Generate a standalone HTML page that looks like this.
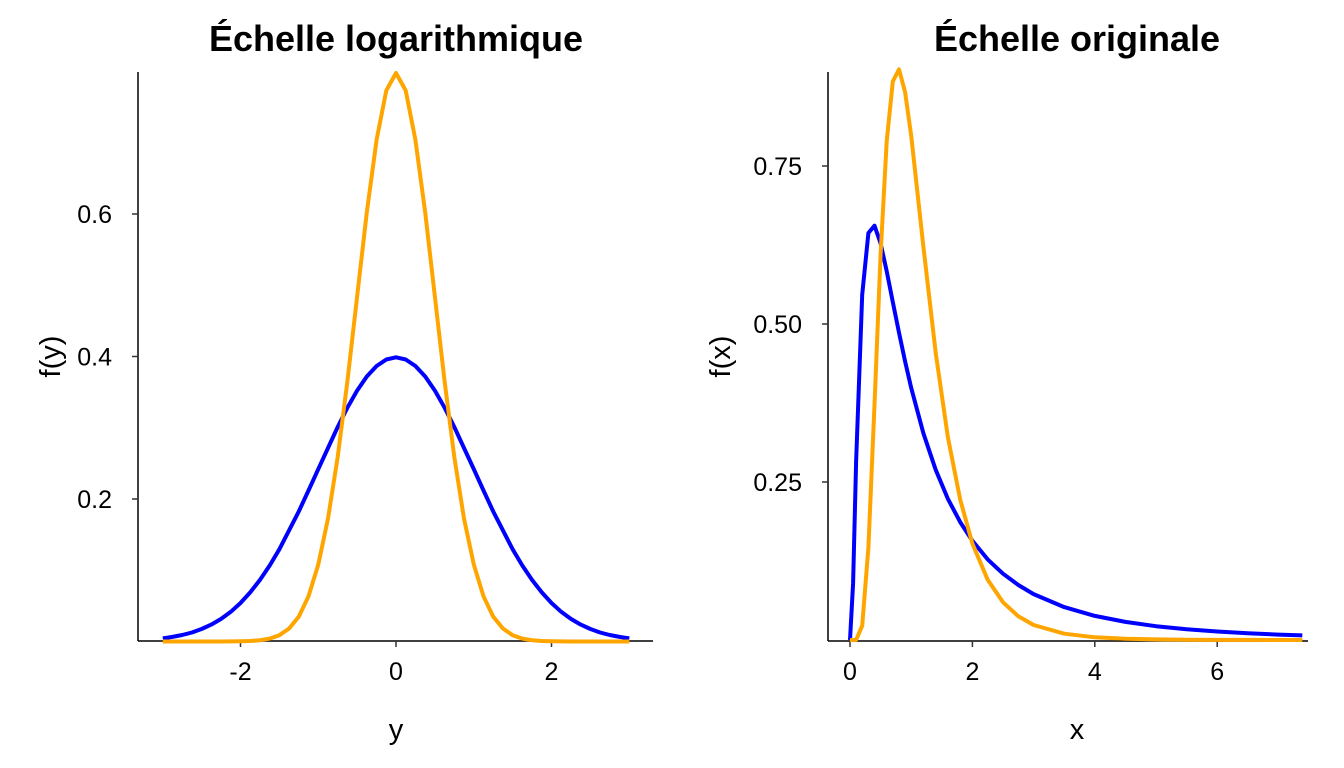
<!DOCTYPE html>
<html><head><meta charset="utf-8"><style>
body{margin:0;background:#fff}
svg{display:block;font-family:"Liberation Sans",sans-serif}
</style></head><body>
<svg id="c" width="1344" height="768" viewBox="0 0 1344 768"></svg>
<script>
const leftY=[-3,-2.875,-2.75,-2.625,-2.5,-2.375,-2.25,-2.125,-2,-1.875,-1.75,-1.625,-1.5,-1.375,-1.25,-1.125,-1,-0.875,-0.75,-0.625,-0.5,-0.375,-0.25,-0.125,0,0.125,0.25,0.375,0.5,0.625,0.75,0.875,1,1.125,1.25,1.375,1.5,1.625,1.75,1.875,2,2.125,2.25,2.375,2.5,2.625,2.75,2.875,3];
const leftBlueHalf=[0.3989,0.3958,0.3867,0.3719,0.3521,0.3281,0.3011,0.2716,0.2420,0.2119,0.1826,0.1561,0.1295,0.1067,0.0863,0.0689,0.0540,0.0417,0.0317,0.0237,0.0175,0.0126,0.0091,0.0064,0.0044];
const leftOrangeHalf=[0.7979,0.7734,0.7041,0.6022,0.4839,0.3652,0.2590,0.1725,0.1080,0.0634,0.0350,0.0182,0.0089,0.0041,0.0018,0.0007,0.0003,0.0001,0,0,0,0,0,0,0];
const rightX=[0,0.05,0.1,0.2,0.3,0.4,0.5,0.6,0.7,0.8,0.9,1,1.2,1.4,1.6,1.8,2,2.25,2.5,2.75,3,3.5,4,4.5,5,5.5,6,6.5,7,7.39];
const rightBlue=[0,0.0898,0.2816,0.5463,0.644,0.6555,0.6276,0.5836,0.5348,0.4864,0.4408,0.3989,0.327,0.2693,0.2233,0.1865,0.1569,0.1276,0.1049,0.087,0.0727,0.052,0.0382,0.0286,0.0219,0.017,0.0134,0.0107,0.0086,0.0073];
const rightOrange=[0,0,0.0002,0.0225,0.1463,0.3722,0.6105,0.789,0.8837,0.9028,0.867,0.7979,0.6222,0.4544,0.3206,0.2221,0.1526,0.0952,0.0596,0.0375,0.0238,0.0099,0.0043,0.0019,0.0009,0.0004,0.0002,0.0001,0,0];
const leftXTicks=[-2,0,2], leftYTicks=[0.2,0.4,0.6], leftYLabels=["0.2","0.4","0.6"];
const rightXTicks=[0,2,4,6], rightYTicks=[0.25,0.5,0.75], rightYLabels=["0.25","0.50","0.75"];

const leftBlue=leftBlueHalf.slice(1).reverse().concat(leftBlueHalf);
const leftOrange=leftOrangeHalf.slice(1).reverse().concat(leftOrangeHalf);
const NS="http://www.w3.org/2000/svg", svg=document.getElementById('c');
function el(t,a,txt){const e=document.createElementNS(NS,t);for(const k in a)e.setAttribute(k,a[k]);if(txt!==undefined)e.textContent=txt;svg.appendChild(e);return e;}

function panel(p){
  const sx=v=>p.x0+(v-p.xa)*p.kx, sy=v=>p.y0-v*p.ky;
  let e=el('text',{x:p.tx,y:51,'text-anchor':'middle','font-size':36,'font-weight':'bold',fill:'#000'},p.title);
  
  e=el('line',{x1:p.ax,y1:p.top,x2:p.ax,y2:p.bot,stroke:'#000','stroke-width':1.5});
  
  e=el('line',{x1:p.ax,y1:p.bot,x2:p.right,y2:p.bot,stroke:'#000','stroke-width':1.5});
  
  p.xt.forEach(v=>{const x=sx(v);
    e=el('line',{x1:x,y1:p.bot,x2:x,y2:p.bot+6,stroke:'#333','stroke-width':1.5});
    
    e=el('text',{x:x,y:p.bot+39,'text-anchor':'middle','font-size':25,fill:'#000'},String(v));
    });
  p.yt.forEach((v,i)=>{const y=sy(v);
    e=el('line',{x1:p.ax-6,y1:y,x2:p.ax,y2:y,stroke:'#333','stroke-width':1.5});
    
    e=el('text',{x:p.ax-26,y:y+9,'text-anchor':'end','font-size':25,fill:'#000'},p.yl[i]);
    });
  e=el('text',{x:p.tx,y:739,'text-anchor':'middle','font-size':29,fill:'#000'},p.xlab);
  
  e=el('text',{x:0,y:0,transform:`translate(${p.ylx},${(p.top+p.bot)/2}) rotate(-90)`,'text-anchor':'middle','font-size':29,fill:'#000'},p.ylab);
  
  p.series.forEach(s=>{
    const pts=p.xs.map((v,i)=>sx(v).toFixed(1)+','+sy(s.v[i]).toFixed(1)).join(' ');
    e=el('polyline',{points:pts,fill:'none',stroke:s.c,'stroke-width':4,'stroke-linejoin':'round'});
    });
}
panel({id:'log',title:'Échelle logarithmique',tx:396,ax:138,top:72,bot:641,right:653,x0:396,xa:0,kx:77.75,y0:641.5,ky:712.5,
  xt:leftXTicks,yt:leftYTicks,yl:leftYLabels,xlab:'y',ylab:'f(y)',ylx:60,xs:leftY,
  series:[{n:'blue',c:'#0000ff',v:leftBlue},{n:'orange',c:'#ffa500',v:leftOrange}]});
panel({id:'orig',title:'Échelle originale',tx:1077,ax:828,top:72,bot:641,right:1308,x0:850,xa:0,kx:61.2,y0:640,ky:632,
  xt:rightXTicks,yt:rightYTicks,yl:rightYLabels,xlab:'x',ylab:'f(x)',ylx:730,xs:rightX,
  series:[{n:'blue',c:'#0000ff',v:rightBlue},{n:'orange',c:'#ffa500',v:rightOrange}]});
</script>
</body></html>
